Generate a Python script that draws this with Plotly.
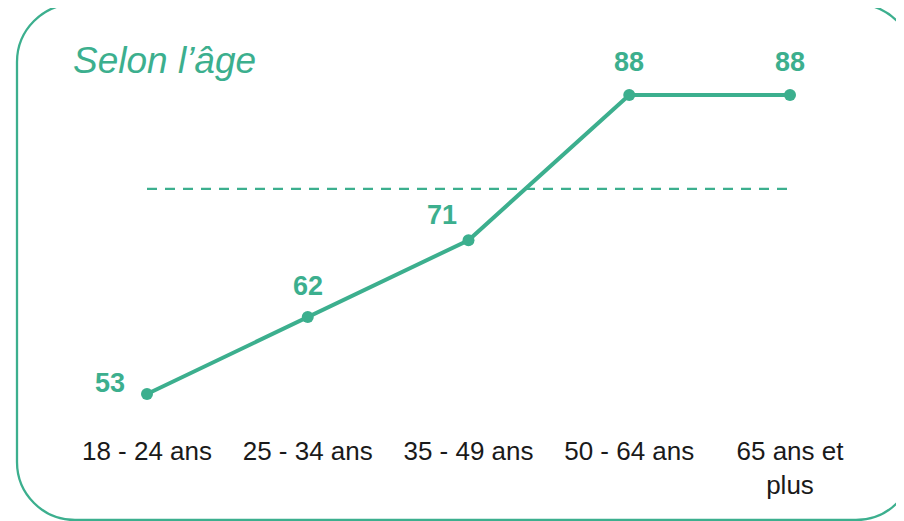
import plotly.graph_objects as go

categories = ["18 - 24 ans", "25 - 34 ans", "35 - 49 ans", "50 - 64 ans", "65 ans et<br>plus"]
values = [53, 62, 71, 88, 88]
average = 77
title_text = "Selon l’âge"

TEAL = "#3caf8e"
W, H = 904, 521
OFF = 8            # page body margin offset
AXIS_Y = 431       # page pixel of plot bottom
PH = AXIS_Y - OFF  # plot height in figure pixels
MB = H - PH

def px(x):
    return (x - OFF) / W

def py(y):
    return (AXIS_Y - y) / PH

# label offsets (pixels)
label_dx = [-37, 0, -27, 0, 0]
label_dy = [11, 31, 25, 33, 33]

fig = go.Figure()
idx = list(range(len(categories)))
fig.add_trace(go.Scatter(
    x=idx, y=[average] * len(idx), mode="lines",
    line=dict(color=TEAL, width=2.3, dash="10px,8px"),
    hoverinfo="skip", showlegend=False))
fig.add_trace(go.Scatter(
    x=idx, y=values, mode="lines+markers",
    line=dict(color=TEAL, width=4),
    marker=dict(color=TEAL, size=12),
    showlegend=False))

for i, v in enumerate(values):
    fig.add_annotation(x=i, y=v, xref="x", yref="y", text=f"<b>{v}</b>",
                       showarrow=False, xshift=label_dx[i], yshift=label_dy[i],
                       font=dict(family="Liberation Sans, Arial", size=27, color=TEAL))

fig.add_annotation(x=px(71), y=py(61), xref="paper", yref="paper", text=f"<i>{title_text}</i>",
                   showarrow=False, xanchor="left", yanchor="middle",
                   font=dict(family="Liberation Sans, Arial", size=37, color=TEAL))

# rounded border (page pixel coords)
x0, x1, y0, y1, r = 17, 914, 4, 520, 58
k = 0.5523 * r
def P(x, y):
    return f"{px(x):.5f},{py(y):.5f}"
path = (f"M {P(x0 + r, y0)} L {P(x1 - r, y0)} "
        f"C {P(x1 - r + k, y0)} {P(x1, y0 + r - k)} {P(x1, y0 + r)} "
        f"L {P(x1, y1 - r)} "
        f"C {P(x1, y1 - r + k)} {P(x1 - r + k, y1)} {P(x1 - r, y1)} "
        f"L {P(x0 + r, y1)} "
        f"C {P(x0 + r - k, y1)} {P(x0, y1 - r + k)} {P(x0, y1 - r)} "
        f"L {P(x0, y0 + r)} "
        f"C {P(x0, y0 + r - k)} {P(x0 + r - k, y0)} {P(x0 + r, y0)} Z")
fig.add_shape(type="path", path=path, xref="paper", yref="paper",
              line=dict(color=TEAL, width=2.3), layer="above")

step = 160.75
x_first = 147 - OFF
fig.update_xaxes(range=[-x_first / step, (W - x_first) / step],
                 tickmode="array", tickvals=idx, ticktext=categories,
                 showgrid=False, zeroline=False, showline=False, ticks="",
                 ticklabelstandoff=2,
                 tickfont=dict(family="Liberation Sans, Arial", size=26, color="#1a1a1a"))
ppu = (394 - 95) / (88 - 53)
fig.update_yaxes(range=[53 - (AXIS_Y - 394) / ppu, 88 + (95 - OFF) / ppu], visible=False)

fig.update_layout(width=W, height=H, margin=dict(l=0, r=0, t=0, b=MB),
                  plot_bgcolor="white", paper_bgcolor="white", showlegend=False)

fig.write_html("out.html")
